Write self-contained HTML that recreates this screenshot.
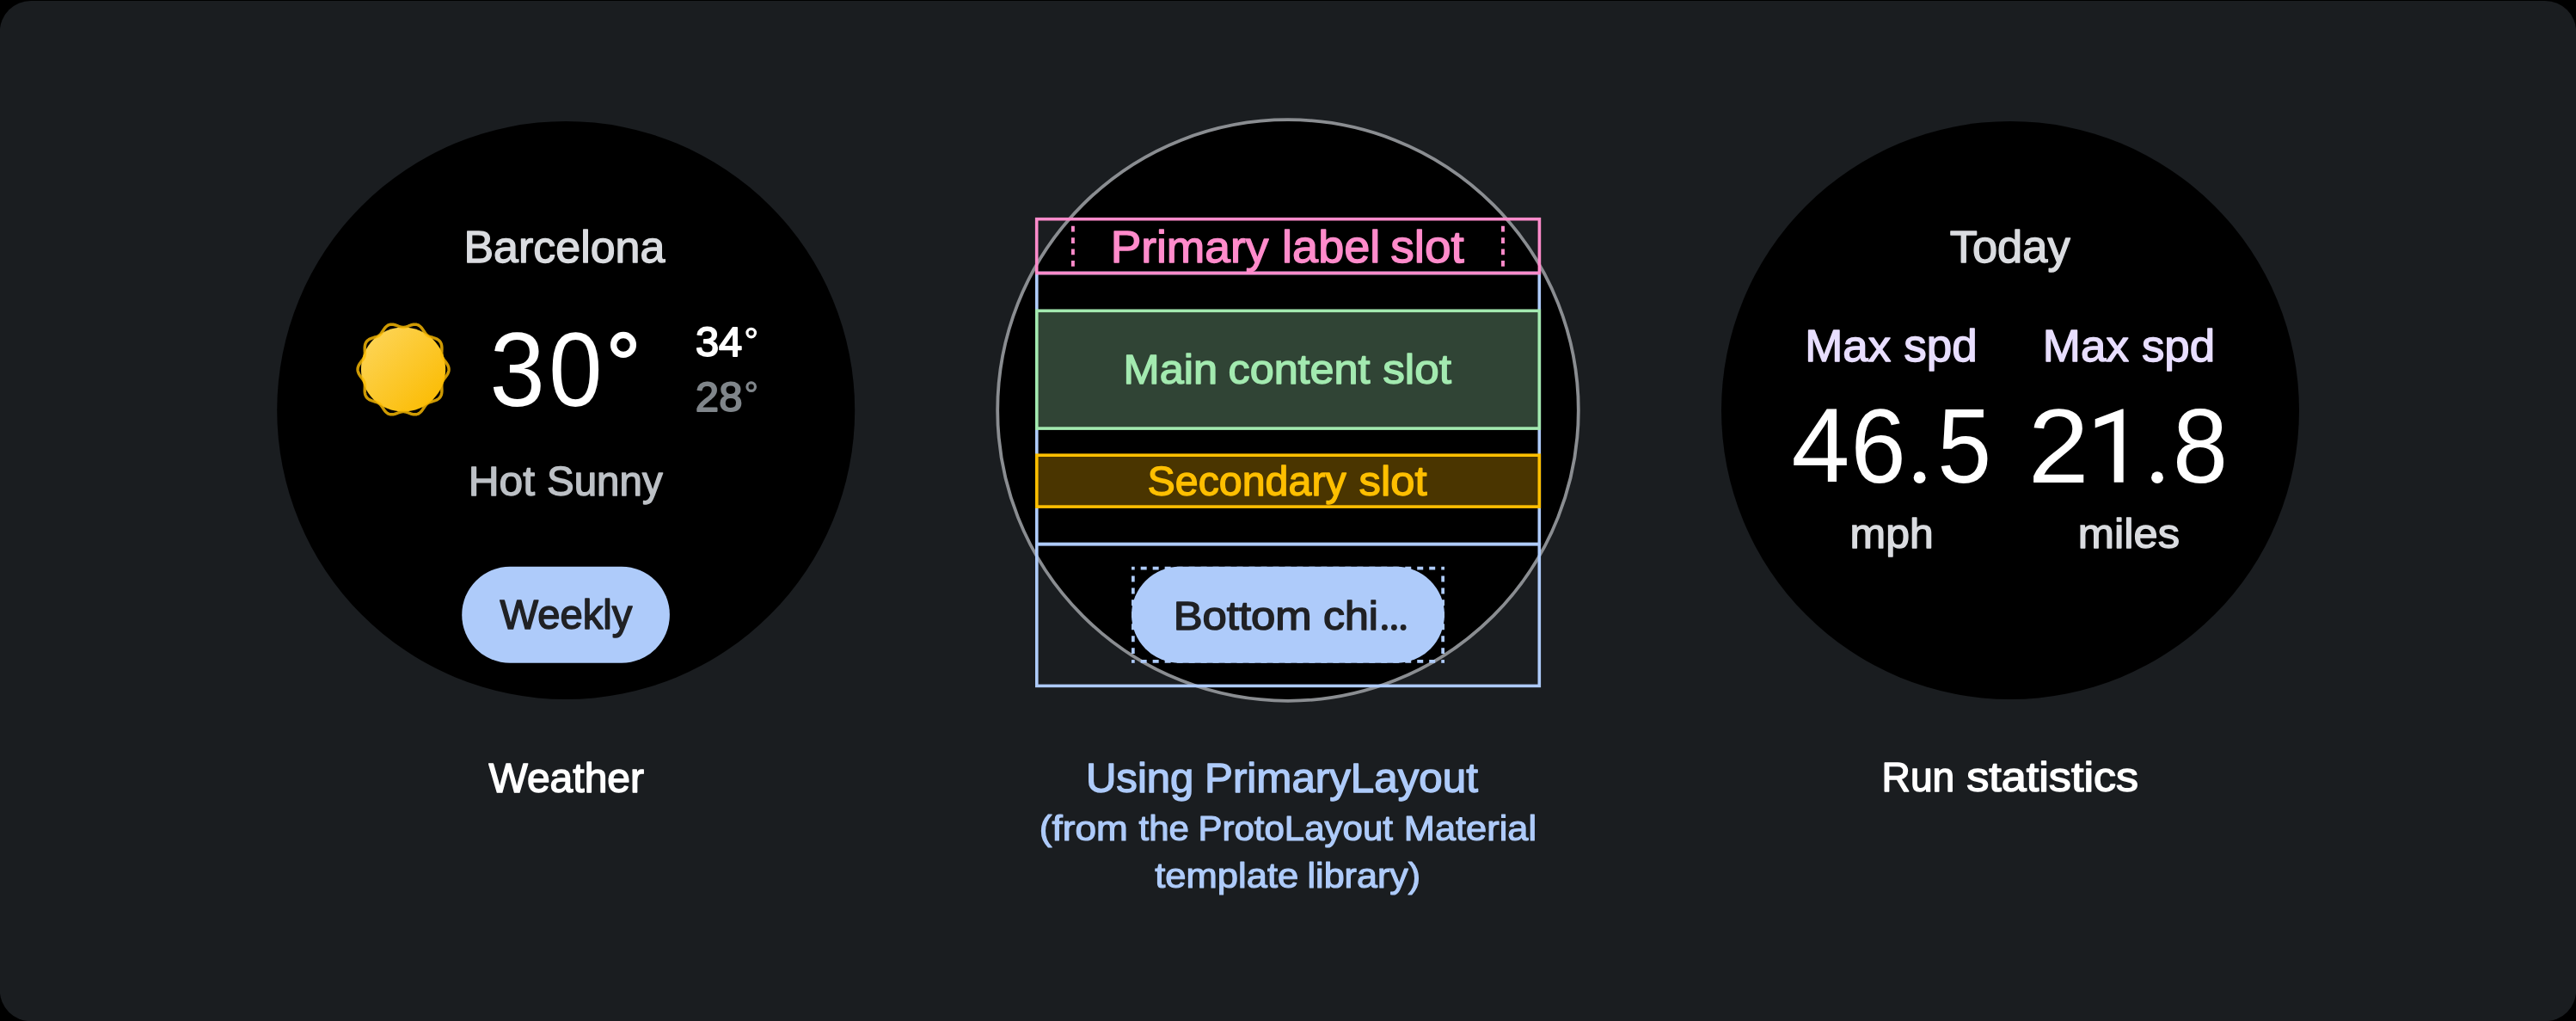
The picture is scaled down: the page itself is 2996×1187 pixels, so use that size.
<!DOCTYPE html>
<html><head><meta charset="utf-8"><title>Tiles layout</title>
<style>html,body{margin:0;padding:0;background:#000;width:2996px;height:1187px;overflow:hidden}</style>
</head><body>
<svg width="2996" height="1187" viewBox="0 0 2996 1187" style="will-change:transform;display:block;position:absolute;left:0;top:0;font-family:'Liberation Sans',sans-serif">
<defs>
<linearGradient id="sg" x1="0.1" y1="0.1" x2="0.9" y2="0.9"><stop offset="0" stop-color="#fdd455"/><stop offset="1" stop-color="#fbbc04"/></linearGradient>
<clipPath id="cc"><circle cx="1498" cy="477" r="337.5"/></clipPath>
</defs>
<rect x="0" y="0" width="2996" height="1187" fill="#000"/>
<rect x="-0.2" y="1" width="2996.4" height="1186.2" rx="36" ry="36" fill="#1a1d20"/>
<!-- left watch -->
<circle cx="658.2" cy="477" r="336" fill="#000"/>
<circle cx="469.05" cy="429.5" r="49.1" fill="url(#sg)"/>
<path d="M469.05 380.47L469.88 380.44L470.72 380.33L471.56 380.17L472.41 379.94L473.28 379.67L474.17 379.36L475.07 379.02L475.99 378.67L476.92 378.33L477.87 378.00L478.82 377.71L479.79 377.46L480.76 377.28L481.72 377.16L482.67 377.13L483.61 377.19L484.53 377.34L485.43 377.58L486.29 377.92L487.12 378.36L487.91 378.88L488.67 379.49L489.38 380.16L490.06 380.90L490.70 381.68L491.31 382.50L491.89 383.34L492.44 384.18L492.99 385.02L493.52 385.84L494.06 386.62L494.61 387.37L495.17 388.07L495.76 388.71L496.38 389.30L497.03 389.84L497.72 390.31L498.46 390.73L499.23 391.11L500.05 391.44L500.91 391.75L501.80 392.03L502.72 392.30L503.67 392.58L504.62 392.87L505.57 393.17L506.51 393.52L507.43 393.90L508.32 394.34L509.17 394.83L509.96 395.38L510.69 395.99L511.34 396.67L511.93 397.41L512.43 398.21L512.85 399.07L513.20 399.97L513.46 400.92L513.65 401.90L513.78 402.90L513.85 403.92L513.88 404.95L513.87 405.98L513.84 407.00L513.80 408.01L513.77 408.99L513.75 409.96L513.77 410.89L513.83 411.80L513.93 412.67L514.10 413.52L514.32 414.35L514.61 415.15L514.96 415.94L515.38 416.71L515.85 417.48L516.37 418.25L516.93 419.02L517.52 419.80L518.12 420.59L518.73 421.40L519.32 422.22L519.89 423.07L520.42 423.94L520.89 424.83L521.29 425.74L521.62 426.66L521.85 427.60L522.00 428.55L522.05 429.50L522.00 430.45L521.85 431.40L521.62 432.34L521.29 433.26L520.89 434.17L520.42 435.06L519.89 435.93L519.32 436.78L518.73 437.60L518.12 438.41L517.52 439.20L516.93 439.98L516.37 440.75L515.85 441.52L515.38 442.29L514.96 443.06L514.61 443.85L514.32 444.65L514.10 445.48L513.93 446.33L513.83 447.20L513.77 448.11L513.75 449.04L513.77 450.01L513.80 450.99L513.84 452.00L513.87 453.02L513.88 454.05L513.85 455.08L513.78 456.10L513.65 457.10L513.46 458.08L513.20 459.03L512.85 459.93L512.43 460.79L511.93 461.59L511.34 462.33L510.69 463.01L509.96 463.62L509.17 464.17L508.32 464.66L507.43 465.10L506.51 465.48L505.57 465.83L504.62 466.13L503.67 466.42L502.72 466.70L501.80 466.97L500.91 467.25L500.05 467.56L499.23 467.89L498.46 468.27L497.72 468.69L497.03 469.16L496.38 469.70L495.76 470.29L495.17 470.93L494.61 471.63L494.06 472.38L493.53 473.16L492.99 473.98L492.44 474.82L491.89 475.66L491.31 476.50L490.70 477.32L490.06 478.10L489.38 478.84L488.67 479.51L487.91 480.12L487.12 480.64L486.29 481.08L485.43 481.42L484.53 481.66L483.61 481.81L482.67 481.87L481.72 481.84L480.76 481.72L479.79 481.54L478.82 481.29L477.87 481.00L476.92 480.67L475.99 480.33L475.07 479.98L474.17 479.64L473.28 479.33L472.41 479.06L471.56 478.83L470.72 478.67L469.88 478.56L469.05 478.53L468.22 478.56L467.38 478.67L466.54 478.83L465.69 479.06L464.82 479.33L463.93 479.64L463.03 479.98L462.11 480.33L461.18 480.67L460.23 481.00L459.28 481.29L458.31 481.54L457.34 481.72L456.38 481.84L455.43 481.87L454.49 481.81L453.57 481.66L452.67 481.42L451.81 481.08L450.98 480.64L450.19 480.12L449.43 479.51L448.72 478.84L448.04 478.10L447.40 477.32L446.79 476.50L446.21 475.66L445.66 474.82L445.11 473.98L444.57 473.16L444.04 472.38L443.49 471.63L442.93 470.93L442.34 470.29L441.72 469.70L441.07 469.16L440.38 468.69L439.64 468.27L438.87 467.89L438.05 467.56L437.19 467.25L436.30 466.97L435.38 466.70L434.43 466.42L433.48 466.13L432.53 465.83L431.59 465.48L430.67 465.10L429.78 464.66L428.93 464.17L428.14 463.62L427.41 463.01L426.76 462.33L426.17 461.59L425.67 460.79L425.25 459.93L424.90 459.03L424.64 458.08L424.45 457.10L424.32 456.10L424.25 455.08L424.22 454.05L424.23 453.02L424.26 452.00L424.30 450.99L424.33 450.01L424.35 449.04L424.33 448.11L424.27 447.20L424.17 446.33L424.00 445.48L423.78 444.65L423.49 443.85L423.14 443.06L422.72 442.29L422.25 441.52L421.73 440.75L421.17 439.98L420.58 439.20L419.98 438.41L419.37 437.60L418.78 436.78L418.21 435.93L417.68 435.06L417.21 434.17L416.81 433.26L416.48 432.34L416.25 431.40L416.10 430.45L416.05 429.50L416.10 428.55L416.25 427.60L416.48 426.66L416.81 425.74L417.21 424.83L417.68 423.94L418.21 423.07L418.78 422.22L419.37 421.40L419.98 420.59L420.58 419.80L421.17 419.02L421.73 418.25L422.25 417.48L422.72 416.71L423.14 415.94L423.49 415.15L423.78 414.35L424.00 413.52L424.17 412.67L424.27 411.80L424.33 410.89L424.35 409.96L424.33 408.99L424.30 408.01L424.26 407.00L424.23 405.98L424.22 404.95L424.25 403.92L424.32 402.90L424.45 401.90L424.64 400.92L424.90 399.97L425.25 399.07L425.67 398.21L426.17 397.41L426.76 396.67L427.41 395.99L428.14 395.38L428.93 394.83L429.78 394.34L430.67 393.90L431.59 393.52L432.53 393.17L433.48 392.87L434.43 392.58L435.38 392.30L436.30 392.03L437.19 391.75L438.05 391.44L438.87 391.11L439.64 390.73L440.38 390.31L441.07 389.84L441.72 389.30L442.34 388.71L442.93 388.07L443.49 387.37L444.04 386.62L444.57 385.84L445.11 385.02L445.66 384.18L446.21 383.34L446.79 382.50L447.40 381.68L448.04 380.90L448.72 380.16L449.43 379.49L450.19 378.88L450.98 378.36L451.81 377.92L452.67 377.58L453.57 377.34L454.49 377.19L455.43 377.13L456.38 377.16L457.34 377.28L458.31 377.46L459.28 377.71L460.23 378.00L461.18 378.33L462.11 378.67L463.03 379.02L463.93 379.36L464.82 379.67L465.69 379.94L466.54 380.17L467.38 380.33L468.22 380.44Z" fill="none" stroke="#fbbc04" stroke-opacity="0.82" stroke-width="3.5" stroke-linejoin="round"/>
<circle cx="725" cy="400.9" r="11.4" fill="none" stroke="#fff" stroke-width="7.3"/>
<circle cx="873.7" cy="387.05" r="4.75" fill="none" stroke="#fff" stroke-width="3.2"/>
<circle cx="873.7" cy="449.7" r="4.75" fill="none" stroke="#80868b" stroke-width="3.2"/>
<rect x="537.2" y="658.8" width="241.7" height="112" rx="56" fill="#aecbfa"/>
<!-- middle watch -->
<circle cx="1498" cy="477" r="337.8" fill="#000" stroke="#8a8d91" stroke-width="3.8"/>
<rect x="1205.8" y="317.5" width="584.5" height="315.1" fill="none" stroke="#aecbfa" stroke-width="3.6"/>
<rect x="1205.8" y="632.6" width="584.5" height="164.8" fill="none" stroke="#aecbfa" stroke-width="3.6"/>
<rect x="1205.7" y="254.7" width="584.7" height="62.8" fill="none" stroke="#ff8bcb" stroke-width="3.6"/>
<rect x="1205.8" y="361.3" width="584.5" height="136.8" fill="#304435" stroke="#a3eab0" stroke-width="3.6"/>
<rect x="1205.8" y="529.2" width="584.5" height="59.9" fill="#4a3500" stroke="#febf00" stroke-width="3.6"/>
<line x1="1247.9" y1="262.8" x2="1247.9" y2="310" stroke="#ff8bcb" stroke-width="3.9" stroke-dasharray="6.7 6.7"/>
<line x1="1748" y1="262.8" x2="1748" y2="310" stroke="#ff8bcb" stroke-width="3.9" stroke-dasharray="6.7 6.7"/>
<g fill="#aecbfa"><rect x="1316" y="658.8" width="3.7" height="3.7"/><rect x="1676.3" y="658.8" width="3.7" height="3.7"/><rect x="1316" y="767.1" width="3.7" height="3.7"/><rect x="1676.3" y="767.1" width="3.7" height="3.7"/></g>
<g stroke="#aecbfa" stroke-width="3.7" stroke-dasharray="6.99 6.99" stroke-dashoffset="6.99">
<line x1="1319.7" y1="660.65" x2="1676.3" y2="660.65"/><line x1="1319.7" y1="768.95" x2="1676.3" y2="768.95"/>
</g>
<g stroke="#aecbfa" stroke-width="3.7" stroke-dasharray="6.973 6.973" stroke-dashoffset="6.973">
<line x1="1317.85" y1="662.5" x2="1317.85" y2="767.1"/><line x1="1678.15" y1="662.5" x2="1678.15" y2="767.1"/>
</g>
<rect x="1316" y="658.8" width="364" height="112" rx="56" fill="#aecbfa"/>
<circle cx="1610.4" cy="729.5" r="3.4" fill="#202124"/><circle cx="1621.4" cy="729.5" r="3.4" fill="#202124"/><circle cx="1632.1" cy="729.5" r="3.4" fill="#202124"/>
<!-- right watch -->
<circle cx="2338" cy="477" r="336" fill="#000"/>
<path d="M2469.65 475.6L2468.1 475.6L2436.7 487.3L2436.7 497.4L2458.7 489.4L2458.7 560.85L2469.65 560.85Z" fill="#fff"/>
<circle cx="2232.6" cy="555.2" r="6.9" fill="#fff"/><circle cx="2509" cy="555.2" r="6.9" fill="#fff"/>
<g font-size="52.03" fill="#dadce0" stroke="#dadce0" stroke-width="1.4" stroke-linejoin="round"><text transform="translate(539.44 304.80) scale(0.9986 1)">Barcelona</text></g>
<g font-size="123.10" fill="#ffffff"><text transform="translate(569.41 471.77) scale(0.9386 1)">3</text></g>
<g font-size="123.10" fill="#ffffff"><text transform="translate(638.16 471.77) scale(0.9081 1)">0</text></g>
<g font-size="47.34" fill="#ffffff" stroke="#ffffff" stroke-width="1.8" stroke-linejoin="round"><text transform="translate(808.90 414.36) scale(1.0339 1)">34</text></g>
<g font-size="48.71" fill="#80868b" stroke="#80868b" stroke-width="1.8" stroke-linejoin="round"><text transform="translate(808.84 478.00) scale(1.0083 1)">28</text></g>
<g font-size="48.41" fill="#bdc1c6" stroke="#bdc1c6" stroke-width="1.4" stroke-linejoin="round"><text transform="translate(544.73 576.10) scale(1.0252 1)">Hot</text><text transform="translate(636.06 576.10) scale(0.9808 1)">Sunny</text></g>
<g font-size="47.68" fill="#202124" stroke="#202124" stroke-width="1.5" stroke-linejoin="round"><text transform="translate(581.52 731.35) scale(0.9900 1)">Weekly</text></g>
<g font-size="48.48" fill="#ffffff" stroke="#ffffff" stroke-width="1.5" stroke-linejoin="round"><text transform="translate(568.47 920.75) scale(0.9902 1)">Weather</text></g>
<g font-size="51.74" fill="#ff8bcb" stroke="#ff8bcb" stroke-width="1.4" stroke-linejoin="round"><text transform="translate(1291.63 304.80) scale(1.0317 1)">Primary</text><text transform="translate(1491.08 304.80) scale(1.0454 1)">label</text><text transform="translate(1617.23 304.80) scale(1.0632 1)">slot</text></g>
<g font-size="47.83" fill="#a3eab0" stroke="#a3eab0" stroke-width="1.4" stroke-linejoin="round"><text transform="translate(1306.56 446.00) scale(1.0563 1)">Main</text><text transform="translate(1428.49 446.00) scale(1.0522 1)">content</text><text transform="translate(1608.24 446.00) scale(1.0705 1)">slot</text></g>
<g font-size="48.82" fill="#febf00" stroke="#febf00" stroke-width="1.4" stroke-linejoin="round"><text transform="translate(1334.52 576.16) scale(0.9906 1)">Secondary</text><text transform="translate(1580.56 576.16) scale(1.0392 1)">slot</text></g>
<g font-size="46.96" fill="#202124" stroke="#202124" stroke-width="1.5" stroke-linejoin="round"><text transform="translate(1364.68 731.55) scale(1.0823 1)">Bottom</text><text transform="translate(1538.95 731.55) scale(1.0654 1)">chi</text></g>
<g font-size="47.57" fill="#aecbfa" stroke="#aecbfa" stroke-width="1.4" stroke-linejoin="round"><text transform="translate(1262.92 920.72) scale(1.0316 1)">Using</text><text transform="translate(1401.06 920.72) scale(1.0365 1)">PrimaryLayout</text></g>
<g font-size="41.09" fill="#aecbfa" stroke="#aecbfa" stroke-width="1.2" stroke-linejoin="round"><text transform="translate(1208.85 976.85) scale(1.0739 1)">(from</text><text transform="translate(1324.57 976.85) scale(1.0224 1)">the</text><text transform="translate(1393.39 976.85) scale(1.0232 1)">ProtoLayout</text><text transform="translate(1632.83 976.85) scale(1.0555 1)">Material</text></g>
<g font-size="41.10" fill="#aecbfa" stroke="#aecbfa" stroke-width="1.2" stroke-linejoin="round"><text transform="translate(1343.15 1032.49) scale(1.0602 1)">template</text><text transform="translate(1520.50 1032.49) scale(1.0481 1)">library)</text></g>
<g font-size="47.63" fill="#ffffff" stroke="#ffffff" stroke-width="1.5" stroke-linejoin="round"><text transform="translate(2188.56 920.41) scale(0.9691 1)">Run</text><text transform="translate(2287.17 920.41) scale(1.0951 1)">statistics</text></g>
<g font-size="51.91" fill="#dadce0" stroke="#dadce0" stroke-width="1.4" stroke-linejoin="round"><text transform="translate(2267.71 304.80) scale(1.0108 1)">Today</text></g>
<g font-size="52.32" fill="#e8deff" stroke="#e8deff" stroke-width="1.4" stroke-linejoin="round"><text transform="translate(2099.27 420.20) scale(1.0118 1)">Max</text><text transform="translate(2214.29 420.20) scale(1.0125 1)">spd</text></g>
<g font-size="52.32" fill="#e8deff" stroke="#e8deff" stroke-width="1.4" stroke-linejoin="round"><text transform="translate(2375.87 420.20) scale(1.0118 1)">Max</text><text transform="translate(2490.90 420.20) scale(1.0100 1)">spd</text></g>
<g font-size="121.80" fill="#ffffff"><text transform="translate(2083.44 560.24) scale(1.0024 1)">4</text></g>
<g font-size="122.68" fill="#ffffff"><text transform="translate(2152.43 561.07) scale(0.9414 1)">6</text></g>
<g font-size="123.00" fill="#ffffff"><text transform="translate(2253.28 561.07) scale(0.9191 1)">5</text></g>
<g font-size="122.79" fill="#ffffff"><text transform="translate(2358.63 560.85) scale(1.0374 1)">2</text></g>
<g font-size="122.84" fill="#ffffff"><text transform="translate(2526.92 561.07) scale(0.9370 1)">8</text></g>
<g font-size="48.08" fill="#dadce0" stroke="#dadce0" stroke-width="1.4" stroke-linejoin="round"><text transform="translate(2151.56 636.66) scale(1.0382 1)">mph</text></g>
<g font-size="48.08" fill="#dadce0" stroke="#dadce0" stroke-width="1.4" stroke-linejoin="round"><text transform="translate(2416.81 636.66) scale(1.0534 1)">miles</text></g>
</svg>
</body></html>
